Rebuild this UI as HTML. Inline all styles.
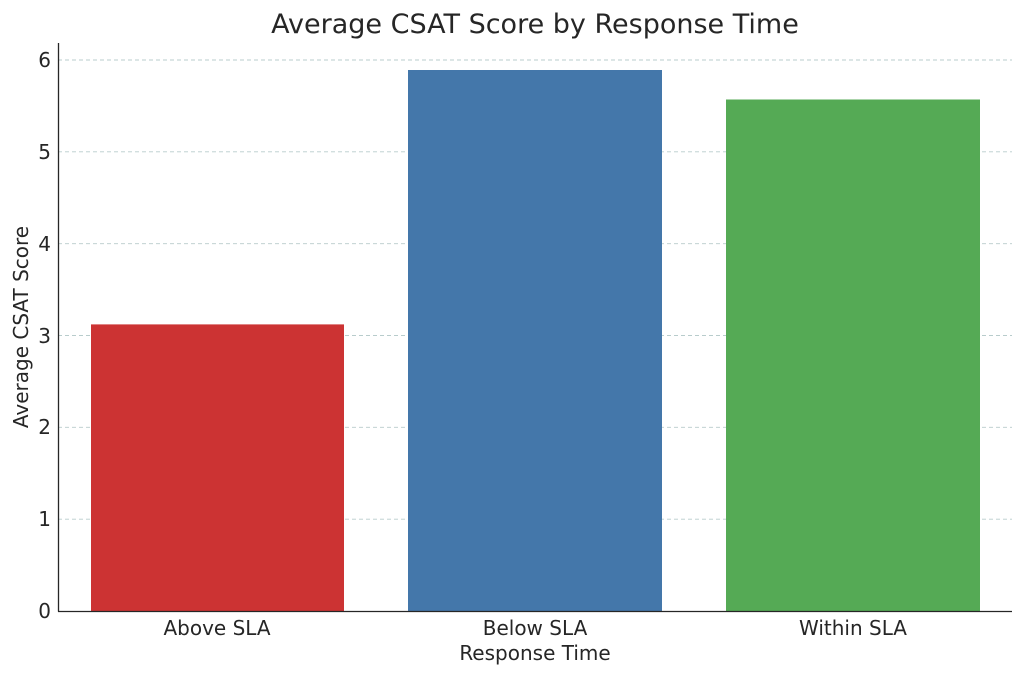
<!DOCTYPE html>
<html><head><meta charset="utf-8"><style>
html,body{margin:0;padding:0;background:#fff;}
svg text{font-family:"DejaVu Sans","Liberation Sans",sans-serif;fill:#262626;}
</style></head><body>
<svg width="1024" height="677" viewBox="0 0 1024 677" xmlns="http://www.w3.org/2000/svg">
<rect width="1024" height="677" fill="#fff"/>
<g stroke="#b8cccc" stroke-width="0.9" stroke-dasharray="4,3">
<line x1="58" x2="1012" y1="519.2" y2="519.2"/>
<line x1="58" x2="1012" y1="427.3" y2="427.3"/>
<line x1="58" x2="1012" y1="335.5" y2="335.5"/>
<line x1="58" x2="1012" y1="243.7" y2="243.7"/>
<line x1="58" x2="1012" y1="151.8" y2="151.8"/>
<line x1="58" x2="1012" y1="60" y2="60"/>
</g>
<rect x="91" y="324.4" width="253" height="286.6" fill="#cc3333"/>
<rect x="408" y="70" width="254" height="541" fill="#4477aa"/>
<rect x="726" y="99.5" width="254" height="511.5" fill="#55aa55"/>
<g stroke="#262626" stroke-width="1.3">
<line x1="58.5" y1="43" x2="58.5" y2="611.5"/>
<line x1="58" y1="611.5" x2="1012" y2="611.5"/>
</g>
<g font-size="20" text-anchor="end">
<text x="51" y="618">0</text>
<text x="51" y="526">1</text>
<text x="51" y="434">2</text>
<text x="51" y="343">3</text>
<text x="51" y="251">4</text>
<text x="51" y="159">5</text>
<text x="51" y="67">6</text>
</g>
<g font-size="20" text-anchor="middle">
<text x="217" y="635">Above SLA</text>
<text x="535" y="635">Below SLA</text>
<text x="853" y="635">Within SLA</text>
<text x="535" y="660">Response Time</text>
<text x="535" y="33" font-size="27">Average CSAT Score by Response Time</text>
<text transform="translate(28,327) rotate(-90)">Average CSAT Score</text>
</g>
</svg>
</body></html>
